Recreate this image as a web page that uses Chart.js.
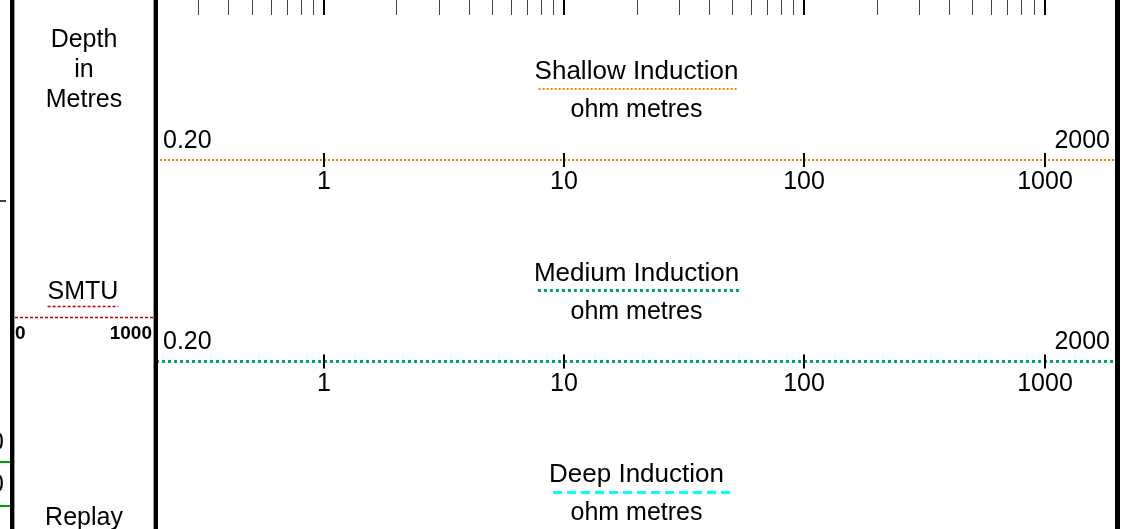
<!DOCTYPE html>
<html>
<head>
<meta charset="utf-8">
<script src="https://cdn.jsdelivr.net/npm/chart.js@4/dist/chart.umd.min.js"></script>
<style>
  html, body { margin: 0; padding: 0; background: #fff; overflow: hidden; }
  canvas { display: block; }
</style>
</head>
<body>
<canvas id="myChart" width="1126" height="529"></canvas>
<script>
// curve headers, one panel per curve
var curveNames = ['Shallow Induction', 'Medium Induction', 'Deep Induction'];
var curveUnits = ['ohm metres', 'ohm metres', 'ohm metres'];
var curveColors = ['#FF8000', '#00A07A', '#00FFFF'];
var curveDash = [[2, 2], [3, 3], [9, 5]];
var curveWidths = [2, 3, 3];

// shared log scale of the resistivity track
var scaleRange = [0.2, 2000];
var scaleEndLabels = ['0.20', '2000'];
var decadeTicks = [1, 10, 100, 1000];
var decadeLabels = ['1', '10', '100', '1000'];
var gridTicks = [0.3, 0.4, 0.5, 0.6, 0.7, 0.8, 0.9,
                 2, 3, 4, 5, 6, 7, 8, 9,
                 20, 30, 40, 50, 60, 70, 80, 90,
                 200, 300, 400, 500, 600, 700, 800, 900];

// depth column
var depthTitle = ['Depth', 'in', 'Metres'];
var smtuName = 'SMTU';
var smtuRange = [0, 1000];
var smtuLabels = ['0', '1000'];
var replayName = 'Replay';

var FONT = '"Liberation Sans", Arial, sans-serif';

function crisp(y, width) {
  return Math.round(y) + (width % 2 ? 0.5 : 0);
}

function dashedLine(ctx, x1, x2, y, color, width, dash) {
  ctx.save();
  ctx.strokeStyle = color;
  ctx.lineWidth = width;
  ctx.setLineDash(dash);
  ctx.beginPath();
  ctx.moveTo(x1, y);
  ctx.lineTo(x2, y);
  ctx.stroke();
  ctx.restore();
}

var headerPlugin = {
  id: 'logHeader',
  afterDraw: function(chart) {
    var ctx = chart.ctx;
    var xs = chart.scales.x;
    var ys = chart.scales.y;
    var area = chart.chartArea;
    var H = chart.height;

    ctx.save();
    ctx.fillStyle = '#000';

    // track borders
    ctx.fillRect(10, 0, 4, H);
    ctx.fillStyle = '#999';
    ctx.fillRect(14, 0, 1, H);
    ctx.fillRect(153, 0, 1, H);
    ctx.fillStyle = '#000';
    ctx.fillRect(154, 0, 4, H);
    ctx.fillRect(1115, 0, 5, H);

    // grid ticks of the track above
    ctx.strokeStyle = '#444';
    ctx.lineWidth = 1;
    gridTicks.forEach(function(v) {
      var x = Math.round(xs.getPixelForValue(v)) + 0.5;
      ctx.beginPath(); ctx.moveTo(x, 0); ctx.lineTo(x, 15); ctx.stroke();
    });
    ctx.strokeStyle = '#000';
    ctx.lineWidth = 2;
    decadeTicks.forEach(function(v) {
      var x = Math.round(xs.getPixelForValue(v));
      ctx.beginPath(); ctx.moveTo(x, 0); ctx.lineTo(x, 15); ctx.stroke();
    });

    // curve header panels
    var cx = (area.left + area.right) / 2;
    curveNames.forEach(function(name, i) {
      var L = ys.getPixelForValue(i);
      ctx.fillStyle = '#000';
      ctx.textAlign = 'center';
      ctx.textBaseline = 'alphabetic';
      ctx.font = '26px ' + FONT;
      ctx.fillText(name, cx, L - 80.5);
      var w = ctx.measureText(name).width;
      // underline in the curve's own line style, ending on a full dash
      var d = curveDash[i], period = d[0] + d[1];
      var x1 = cx - w / 2 + 4;
      var len = (cx + w / 2 - 3) - x1;
      len = Math.ceil((len - d[0]) / period) * period + d[0];
      dashedLine(ctx, x1, x1 + len, crisp(L - 71, curveWidths[i]), curveColors[i], curveWidths[i], d);
      ctx.font = '25px ' + FONT;
      ctx.fillText(curveUnits[i], cx, L - 42.5);
      ctx.textAlign = 'left';
      ctx.fillText(scaleEndLabels[0], area.left + 7, L - 12);
      ctx.textAlign = 'right';
      ctx.fillText(scaleEndLabels[1], area.right - 7, L - 12);
      ctx.textAlign = 'center';
      ctx.strokeStyle = '#000';
      ctx.lineWidth = 2;
      decadeTicks.forEach(function(v, k) {
        var x = Math.round(xs.getPixelForValue(v));
        ctx.beginPath(); ctx.moveTo(x, L - 7); ctx.lineTo(x, L + 7); ctx.stroke();
        ctx.fillText(decadeLabels[k], x, L + 29.5);
      });
    });

    // depth column text
    ctx.fillStyle = '#000';
    ctx.textAlign = 'center';
    ctx.font = '25px ' + FONT;
    depthTitle.forEach(function(t, k) {
      ctx.fillText(t, 84, 47 + k * 30);
    });
    ctx.fillText(smtuName, 83, 299);
    var sw = ctx.measureText(smtuName).width;
    dashedLine(ctx, 83 - sw / 2, 83 + sw / 2, 306.5, '#C00000', 1.5, [3, 2]);
    dashedLine(ctx, 15, 154, 317.5, '#C00000', 1.5, [3, 2]);
    ctx.font = 'bold 19px ' + FONT;
    ctx.textAlign = 'left';
    ctx.fillText(smtuLabels[0], 15, 339);
    ctx.textAlign = 'right';
    ctx.fillText(smtuLabels[1], 152, 339);
    ctx.textAlign = 'center';
    ctx.font = '25px ' + FONT;
    ctx.fillText(replayName, 84, 525);

    // edge of the neighbouring track on the far left
    ctx.strokeStyle = '#000';
    ctx.lineWidth = 1.5;
    ctx.beginPath(); ctx.moveTo(0, 201); ctx.lineTo(6, 201); ctx.stroke();
    ctx.strokeStyle = '#00A000';
    ctx.lineWidth = 2;
    ctx.beginPath(); ctx.moveTo(0, 462); ctx.lineTo(10, 462); ctx.stroke();
    ctx.beginPath(); ctx.moveTo(0, 506); ctx.lineTo(10, 506); ctx.stroke();
    ctx.fillStyle = '#000';
    ctx.textAlign = 'right';
    ctx.fillText('0', 4, 450);
    ctx.fillText('0', 4, 491.5);

    ctx.restore();
  }
};

var datasets = curveNames.map(function(name, i) {
  return {
    label: name,
    data: [{ x: scaleRange[0], y: i }, { x: scaleRange[1], y: i }],
    borderColor: curveColors[i],
    borderWidth: curveWidths[i],
    borderDash: curveDash[i],
    pointRadius: 0,
    showLine: true,
    fill: false
  };
});

var ctx = document.getElementById('myChart');
var myChart = new Chart(ctx, {
  type: 'scatter',
  data: { datasets: datasets },
  options: {
    responsive: false,
    animation: false,
    layout: { padding: { left: 156, right: 9, top: 0, bottom: 0 } },
    plugins: { legend: { display: false }, tooltip: { enabled: false } },
    scales: {
      x: { type: 'logarithmic', min: scaleRange[0], max: scaleRange[1], display: false },
      // panel index 0 sits on y=160, panel 1 on y=361.5
      y: { type: 'linear', min: -0.79404, max: 1.83127, reverse: true, display: false }
    }
  },
  plugins: [headerPlugin]
});
</script>
</body>
</html>
